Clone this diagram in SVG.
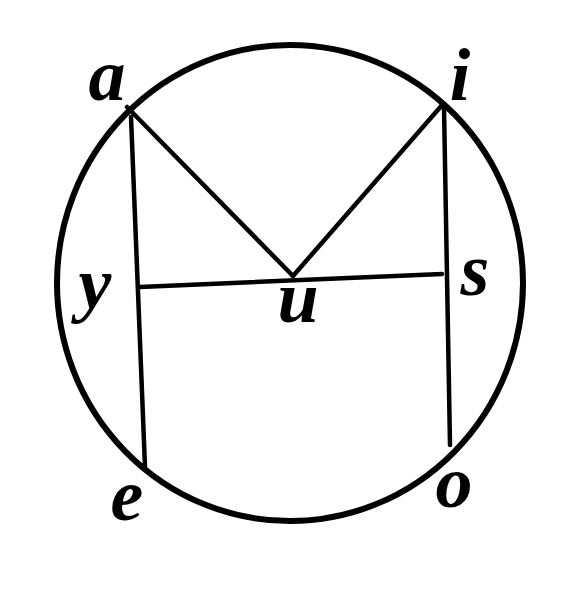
<svg xmlns="http://www.w3.org/2000/svg" width="572" height="589" viewBox="0 0 572 589">
<style>
.lbl{font-family:"Liberation Serif","DejaVu Serif",serif;font-style:italic;font-weight:bold;font-size:74px;fill:#000;text-anchor:middle}
.ln{stroke:#000;stroke-width:4.5;fill:none;stroke-linecap:round}
</style>
<rect width="572" height="589" fill="#fff"/>
<g id="circle"><ellipse cx="290" cy="283" rx="233" ry="238" fill="none" stroke="#000" stroke-width="6"/></g>
<g id="connectors">
<line class="ln" x1="127" y1="107" x2="293" y2="276"/>
<line class="ln" x1="443" y1="104" x2="293" y2="276"/>
<line class="ln" x1="131" y1="117" x2="145" y2="467"/>
<line class="ln" x1="444" y1="107" x2="450" y2="445"/>
<line class="ln" x1="140" y1="287" x2="442" y2="274"/>
</g>
<g id="a"><text class="lbl" x="107" y="100">a</text></g>
<g id="i"><text class="lbl" x="460" y="100">i</text></g>
<g id="y"><text class="lbl" x="95" y="308">y</text></g>
<g id="s"><text class="lbl" x="475" y="295">s</text></g>
<g id="u"><text class="lbl" x="298" y="322">u</text></g>
<g id="e"><text class="lbl" x="127" y="520">e</text></g>
<g id="o"><text class="lbl" x="454" y="507">o</text></g>
</svg>
